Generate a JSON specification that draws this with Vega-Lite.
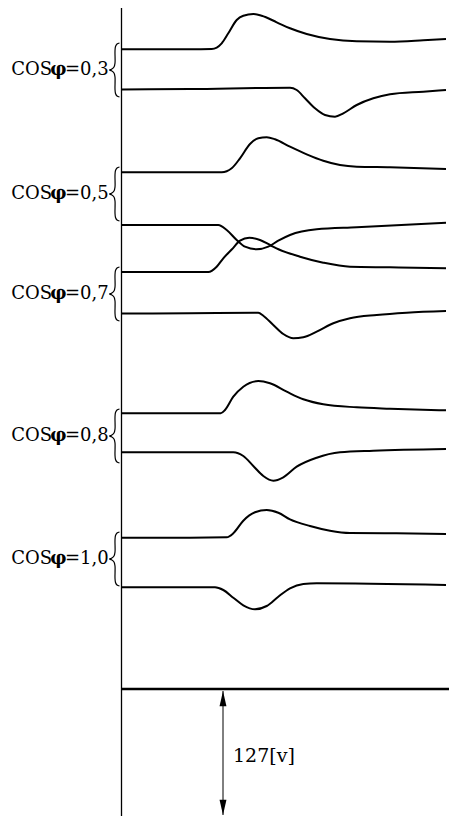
{
  "$schema": "https://vega.github.io/schema/vega-lite/v6.json",
  "width": 449,
  "height": 816,
  "padding": 0,
  "autosize": {"type": "none"},
  "background": "white",
  "config": {"view": {"stroke": null}},
  "datasets": {
    "curves": [
      {"s":"03a","t":122,"v":49.3},{"s":"03a","t":190,"v":49.3},{"s":"03a","t":211.7,"v":49},{"s":"03a","t":221.7,"v":43.3},{"s":"03a","t":228.3,"v":33.3},{"s":"03a","t":236.7,"v":20},{"s":"03a","t":243.3,"v":15.7},{"s":"03a","t":253.3,"v":14},{"s":"03a","t":261.7,"v":15.7},{"s":"03a","t":276.7,"v":22.3},{"s":"03a","t":290,"v":28.3},{"s":"03a","t":306.7,"v":34},{"s":"03a","t":330,"v":39},{"s":"03a","t":356.7,"v":41.3},{"s":"03a","t":390,"v":41.7},{"s":"03a","t":423.3,"v":40.3},{"s":"03a","t":446,"v":39},
      {"s":"03b","t":122,"v":89.5},{"s":"03b","t":190,"v":89},{"s":"03b","t":290,"v":87.7},{"s":"03b","t":296.7,"v":90},{"s":"03b","t":305,"v":98.3},{"s":"03b","t":315,"v":108.3},{"s":"03b","t":325,"v":115},{"s":"03b","t":335,"v":116.7},{"s":"03b","t":343.3,"v":113.3},{"s":"03b","t":356.7,"v":105},{"s":"03b","t":373.3,"v":98.3},{"s":"03b","t":390,"v":94.3},{"s":"03b","t":423.3,"v":91.7},{"s":"03b","t":446,"v":90},
      {"s":"05a","t":122,"v":172.3},{"s":"05a","t":221.7,"v":172.3},{"s":"05a","t":231.7,"v":168.3},{"s":"05a","t":240,"v":158.3},{"s":"05a","t":250,"v":144},{"s":"05a","t":258.3,"v":138.3},{"s":"05a","t":266.7,"v":137.3},{"s":"05a","t":275,"v":139.3},{"s":"05a","t":290,"v":146.7},{"s":"05a","t":306.7,"v":154.3},{"s":"05a","t":323.3,"v":160.7},{"s":"05a","t":340,"v":165},{"s":"05a","t":356.7,"v":166.7},{"s":"05a","t":390,"v":167.3},{"s":"05a","t":446,"v":169},
      {"s":"05b","t":122,"v":225},{"s":"05b","t":218.3,"v":225},{"s":"05b","t":226.7,"v":230},{"s":"05b","t":236.7,"v":240},{"s":"05b","t":245,"v":246.7},{"s":"05b","t":256.7,"v":249.3},{"s":"05b","t":268.3,"v":246.7},{"s":"05b","t":278.3,"v":240.7},{"s":"05b","t":290,"v":235},{"s":"05b","t":316.7,"v":229.3},{"s":"05b","t":356.7,"v":227.3},{"s":"05b","t":446,"v":222.7},
      {"s":"07a","t":122,"v":272},{"s":"07a","t":208.3,"v":272},{"s":"07a","t":216.7,"v":266.7},{"s":"07a","t":223.3,"v":258.3},{"s":"07a","t":231.7,"v":249.5},{"s":"07a","t":240,"v":240.7},{"s":"07a","t":249.3,"v":237.7},{"s":"07a","t":260,"v":240},{"s":"07a","t":270,"v":245},{"s":"07a","t":279,"v":249.5},{"s":"07a","t":300,"v":256.7},{"s":"07a","t":323.3,"v":262.7},{"s":"07a","t":350,"v":266.7},{"s":"07a","t":390,"v":267.3},{"s":"07a","t":446,"v":268.3},
      {"s":"07b","t":122,"v":313.5},{"s":"07b","t":190,"v":313.3},{"s":"07b","t":258.3,"v":312.7},{"s":"07b","t":263.3,"v":315.7},{"s":"07b","t":273.3,"v":325},{"s":"07b","t":283.3,"v":334},{"s":"07b","t":293.3,"v":338.3},{"s":"07b","t":303.3,"v":337.3},{"s":"07b","t":316.7,"v":331.7},{"s":"07b","t":333.3,"v":323.3},{"s":"07b","t":350,"v":318.3},{"s":"07b","t":376.7,"v":315},{"s":"07b","t":406.7,"v":312.7},{"s":"07b","t":446,"v":311},
      {"s":"08a","t":122,"v":413.3},{"s":"08a","t":220.7,"v":413.3},{"s":"08a","t":225,"v":410},{"s":"08a","t":233.3,"v":396.7},{"s":"08a","t":243.3,"v":386.7},{"s":"08a","t":258.3,"v":381},{"s":"08a","t":270,"v":383.3},{"s":"08a","t":286.7,"v":391.7},{"s":"08a","t":303.3,"v":399.3},{"s":"08a","t":323.3,"v":404.3},{"s":"08a","t":356.7,"v":407.3},{"s":"08a","t":390,"v":408.7},{"s":"08a","t":446,"v":410.3},
      {"s":"08b","t":122,"v":452.3},{"s":"08b","t":233.3,"v":452.3},{"s":"08b","t":243.3,"v":456},{"s":"08b","t":253.3,"v":466},{"s":"08b","t":263.3,"v":476},{"s":"08b","t":273.3,"v":480.7},{"s":"08b","t":283.3,"v":477.3},{"s":"08b","t":296.7,"v":466.7},{"s":"08b","t":316.7,"v":457.7},{"s":"08b","t":340,"v":452.3},{"s":"08b","t":373.3,"v":450.7},{"s":"08b","t":446,"v":449},
      {"s":"10a","t":122,"v":537.7},{"s":"10a","t":190,"v":537.7},{"s":"10a","t":226.7,"v":537.3},{"s":"10a","t":233.3,"v":533.3},{"s":"10a","t":243.3,"v":520.7},{"s":"10a","t":255,"v":512.3},{"s":"10a","t":266.7,"v":510},{"s":"10a","t":278.3,"v":512.7},{"s":"10a","t":290,"v":519.3},{"s":"10a","t":310,"v":526},{"s":"10a","t":330,"v":530.7},{"s":"10a","t":350,"v":533},{"s":"10a","t":390,"v":533.3},{"s":"10a","t":446,"v":534},
      {"s":"10b","t":122,"v":587.3},{"s":"10b","t":215,"v":587.3},{"s":"10b","t":223.3,"v":590},{"s":"10b","t":233.3,"v":597.7},{"s":"10b","t":243.3,"v":605.3},{"s":"10b","t":255,"v":609.3},{"s":"10b","t":266.7,"v":606},{"s":"10b","t":278.3,"v":596.7},{"s":"10b","t":290,"v":588.3},{"s":"10b","t":303.3,"v":584},{"s":"10b","t":316.7,"v":583.3},{"s":"10b","t":446,"v":585}
    ],
    "braces": [
      {"b":"03","o":1,"t":119.5,"v":43},{"b":"03","o":2,"t":117,"v":44},{"b":"03","o":3,"t":115.5,"v":46.5},{"b":"03","o":4,"t":115,"v":51},{"b":"03","o":5,"t":115,"v":63},{"b":"03","o":6,"t":114,"v":67},{"b":"03","o":7,"t":111.5,"v":69.2},{"b":"03","o":8,"t":109.5,"v":70},{"b":"03","o":9,"t":111.5,"v":70.8},{"b":"03","o":10,"t":114,"v":73},{"b":"03","o":11,"t":115,"v":77},{"b":"03","o":12,"t":115,"v":89},{"b":"03","o":13,"t":115.5,"v":93.5},{"b":"03","o":14,"t":117,"v":96},{"b":"03","o":15,"t":119.5,"v":97},
      {"b":"05","o":1,"t":119.5,"v":167},{"b":"05","o":2,"t":117,"v":168},{"b":"05","o":3,"t":115.5,"v":170.5},{"b":"05","o":4,"t":115,"v":175},{"b":"05","o":5,"t":115,"v":187},{"b":"05","o":6,"t":114,"v":191},{"b":"05","o":7,"t":111.5,"v":193.2},{"b":"05","o":8,"t":109.5,"v":194},{"b":"05","o":9,"t":111.5,"v":194.8},{"b":"05","o":10,"t":114,"v":197},{"b":"05","o":11,"t":115,"v":201},{"b":"05","o":12,"t":115,"v":213},{"b":"05","o":13,"t":115.5,"v":217.5},{"b":"05","o":14,"t":117,"v":220},{"b":"05","o":15,"t":119.5,"v":221},
      {"b":"07","o":1,"t":119.5,"v":267},{"b":"07","o":2,"t":117,"v":268},{"b":"07","o":3,"t":115.5,"v":270.5},{"b":"07","o":4,"t":115,"v":275},{"b":"07","o":5,"t":115,"v":287},{"b":"07","o":6,"t":114,"v":291},{"b":"07","o":7,"t":111.5,"v":293.2},{"b":"07","o":8,"t":109.5,"v":294},{"b":"07","o":9,"t":111.5,"v":294.8},{"b":"07","o":10,"t":114,"v":297},{"b":"07","o":11,"t":115,"v":301},{"b":"07","o":12,"t":115,"v":313},{"b":"07","o":13,"t":115.5,"v":317.5},{"b":"07","o":14,"t":117,"v":320},{"b":"07","o":15,"t":119.5,"v":321},
      {"b":"08","o":1,"t":119.5,"v":409},{"b":"08","o":2,"t":117,"v":410},{"b":"08","o":3,"t":115.5,"v":412.5},{"b":"08","o":4,"t":115,"v":417},{"b":"08","o":5,"t":115,"v":429},{"b":"08","o":6,"t":114,"v":433},{"b":"08","o":7,"t":111.5,"v":435.2},{"b":"08","o":8,"t":109.5,"v":436},{"b":"08","o":9,"t":111.5,"v":436.8},{"b":"08","o":10,"t":114,"v":439},{"b":"08","o":11,"t":115,"v":443},{"b":"08","o":12,"t":115,"v":455},{"b":"08","o":13,"t":115.5,"v":459.5},{"b":"08","o":14,"t":117,"v":462},{"b":"08","o":15,"t":119.5,"v":463},
      {"b":"10","o":1,"t":119.5,"v":532},{"b":"10","o":2,"t":117,"v":533},{"b":"10","o":3,"t":115.5,"v":535.5},{"b":"10","o":4,"t":115,"v":540},{"b":"10","o":5,"t":115,"v":552},{"b":"10","o":6,"t":114,"v":556},{"b":"10","o":7,"t":111.5,"v":558.2},{"b":"10","o":8,"t":109.5,"v":559},{"b":"10","o":9,"t":111.5,"v":559.8},{"b":"10","o":10,"t":114,"v":562},{"b":"10","o":11,"t":115,"v":566},{"b":"10","o":12,"t":115,"v":578},{"b":"10","o":13,"t":115.5,"v":582.5},{"b":"10","o":14,"t":117,"v":585},{"b":"10","o":15,"t":119.5,"v":586}
    ],
    "labels": [
      {"eq":"=0,3","v":70},
      {"eq":"=0,5","v":194},
      {"eq":"=0,7","v":294},
      {"eq":"=0,8","v":436},
      {"eq":"=1,0","v":559}
    ],
    "frame": [
      {"t":121.5,"v":8,"v2":816}
    ],
    "base": [
      {"t":121,"t2":449,"v":689}
    ],
    "span": [
      {"t":223,"top":691,"bottom":815,"label":"127[v]","tl":233,"vl":756}
    ]
  },
  "layer": [
    {
      "data": {"name": "frame"},
      "mark": {"type": "rule", "color": "black", "strokeWidth": 1.3},
      "encoding": {
        "x": {"field": "t", "type": "quantitative", "scale": {"domain": [0, 449], "nice": false, "zero": false}, "axis": null},
        "y": {"field": "v", "type": "quantitative", "scale": {"domain": [0, 816], "nice": false, "zero": false, "reverse": true}, "axis": null},
        "y2": {"field": "v2"}
      }
    },
    {
      "data": {"name": "base"},
      "mark": {"type": "rule", "color": "black", "strokeWidth": 2.5},
      "encoding": {
        "x": {"field": "t", "type": "quantitative", "axis": null},
        "x2": {"field": "t2"},
        "y": {"field": "v", "type": "quantitative", "axis": null}
      }
    },
    {
      "data": {"name": "span"},
      "mark": {"type": "rule", "color": "black", "strokeWidth": 1},
      "encoding": {
        "x": {"field": "t", "type": "quantitative", "axis": null},
        "y": {"field": "top", "type": "quantitative", "axis": null},
        "y2": {"field": "bottom"}
      }
    },
    {
      "data": {"name": "span"},
      "mark": {"type": "point", "shape": "M0,0L0.4,1.75L-0.4,1.75Z", "filled": true, "color": "black", "size": 300, "opacity": 1, "strokeWidth": 0},
      "encoding": {
        "x": {"field": "t", "type": "quantitative", "axis": null},
        "y": {"field": "top", "type": "quantitative", "axis": null}
      }
    },
    {
      "data": {"name": "span"},
      "mark": {"type": "point", "shape": "M0,0L0.4,-1.75L-0.4,-1.75Z", "filled": true, "color": "black", "size": 300, "opacity": 1, "strokeWidth": 0},
      "encoding": {
        "x": {"field": "t", "type": "quantitative", "axis": null},
        "y": {"field": "bottom", "type": "quantitative", "axis": null}
      }
    },
    {
      "data": {"name": "span"},
      "mark": {"type": "text", "font": "DejaVu Serif", "fontSize": 19, "align": "left", "baseline": "middle", "color": "black"},
      "encoding": {
        "x": {"field": "tl", "type": "quantitative", "axis": null},
        "y": {"field": "vl", "type": "quantitative", "axis": null},
        "text": {"field": "label"}
      }
    },
    {
      "data": {"name": "curves"},
      "mark": {"type": "line", "color": "black", "strokeWidth": 2, "interpolate": "monotone"},
      "encoding": {
        "x": {"field": "t", "type": "quantitative", "axis": null},
        "y": {"field": "v", "type": "quantitative", "axis": null},
        "detail": {"field": "s"}
      }
    },
    {
      "data": {"name": "braces"},
      "mark": {"type": "line", "color": "black", "strokeWidth": 1.2, "interpolate": "catmull-rom"},
      "encoding": {
        "x": {"field": "t", "type": "quantitative", "axis": null},
        "y": {"field": "v", "type": "quantitative", "axis": null},
        "detail": {"field": "b"},
        "order": {"field": "o", "type": "quantitative"}
      }
    },
    {
      "data": {"name": "labels"},
      "mark": {"type": "text", "text": "COS", "font": "DejaVu Serif", "fontSize": 18, "align": "right", "baseline": "middle", "color": "black"},
      "encoding": {
        "x": {"datum": 52, "type": "quantitative", "axis": null},
        "y": {"field": "v", "type": "quantitative", "axis": null}
      }
    },
    {
      "data": {"name": "labels"},
      "mark": {"type": "text", "text": "φ", "font": "DejaVu Serif", "fontSize": 18, "fontWeight": "bold", "align": "center", "baseline": "middle", "color": "black"},
      "encoding": {
        "x": {"datum": 58.5, "type": "quantitative", "axis": null},
        "y": {"field": "v", "type": "quantitative", "axis": null}
      }
    },
    {
      "data": {"name": "labels"},
      "mark": {"type": "text", "font": "DejaVu Serif", "fontSize": 18, "align": "left", "baseline": "middle", "color": "black"},
      "encoding": {
        "x": {"datum": 65, "type": "quantitative", "axis": null},
        "y": {"field": "v", "type": "quantitative", "axis": null},
        "text": {"field": "eq"}
      }
    }
  ]
}
